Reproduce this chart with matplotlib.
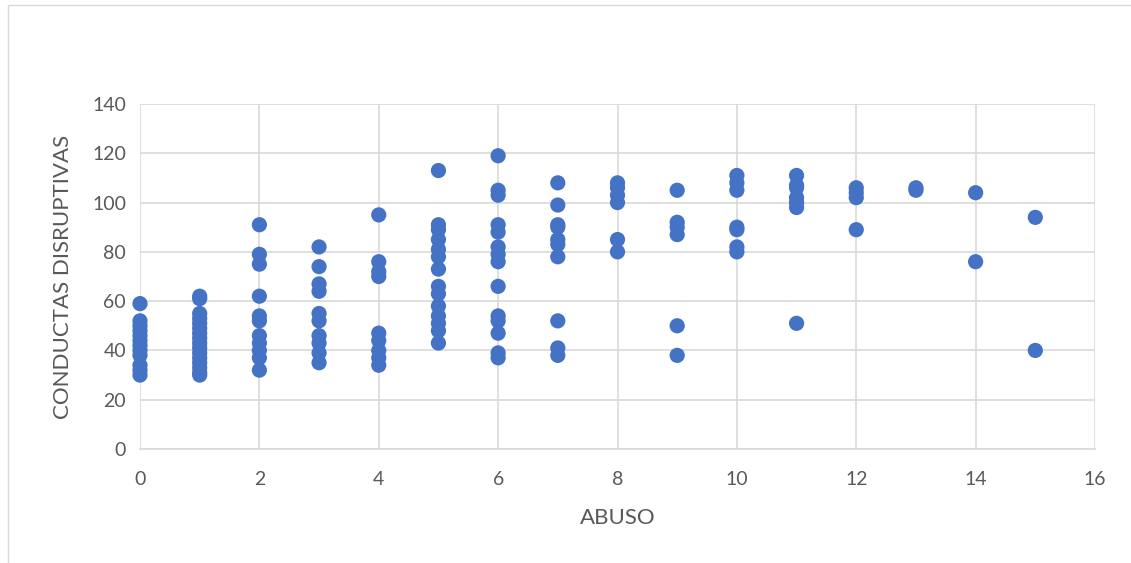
import matplotlib
matplotlib.use("Agg")
import matplotlib.pyplot as plt
from matplotlib.patches import Rectangle

plt.rcParams['font.family'] = ['Lato', 'DejaVu Sans']

# ABUSO values and CONDUCTAS DISRUPTIVAS values, grouped by x
x0 = [59, 52, 50, 48, 46, 44, 42, 40, 38, 34, 32, 30]
x1 = [62, 61, 55, 53, 51, 49, 47, 45, 43, 41, 39, 37, 35, 33, 31, 30]
x2 = [91, 79, 75, 62, 54, 52, 46, 43, 40, 37, 32]
x3 = [82, 74, 67, 64, 55, 52, 46, 43, 39, 35]
x4 = [95, 76, 72, 70, 47, 44, 40, 37, 34]
x5 = [113, 91, 89, 85, 81, 78, 73, 66, 63, 58, 54, 51, 48, 43]
x6 = [119, 105, 103, 91, 88, 82, 79, 76, 66, 54, 52, 47, 39, 37]
x7 = [108, 99, 91, 90, 85, 83, 78, 52, 41, 38]
x8 = [108, 106, 103, 100, 85, 80]
x9 = [105, 92, 90, 87, 50, 38]
x10 = [111, 108, 105, 90, 89, 82, 80]
x11 = [111, 107, 106, 102, 100, 98, 51]
x12 = [106, 104, 102, 89]
x13 = [106, 105]
x14 = [104, 76]
x15 = [94, 40]

groups = [x0, x1, x2, x3, x4, x5, x6, x7, x8, x9, x10, x11, x12, x13, x14, x15]
abuso = []
conductas = []
for k, g in enumerate(groups):
    for v in g:
        abuso.append(k)
        conductas.append(v)

xticks = [0, 2, 4, 6, 8, 10, 12, 14, 16]
yticks = [0, 20, 40, 60, 80, 100, 120, 140]

W, H = 1131, 563
fig = plt.figure(figsize=(W / 100, H / 100), dpi=100)
ax = fig.add_axes([140 / W, 1 - 449 / H, (1095 - 140) / W, (449 - 104) / H])

# chart border
fig.patches.append(Rectangle((8 / W, -0.1), 1.2, 1 - 5 / H + 0.1, transform=fig.transFigure,
                             fill=False, edgecolor='#d9d9d9', linewidth=1.0))

ax.scatter(abuso, conductas, s=120, color='#4472C4', edgecolors='none', zorder=3, clip_on=False)

ax.set_xlim(0, 16)
ax.set_ylim(0, 140)
ax.set_xticks(xticks)
ax.set_yticks(yticks)
ax.grid(True, color='#d9d9d9', linewidth=1.2)
ax.set_axisbelow(True)
for s in ['top', 'right', 'left']:
    ax.spines[s].set_visible(False)
ax.spines['bottom'].set_color('#d9d9d9')
ax.spines['bottom'].set_linewidth(1.2)
ax.tick_params(axis='x', length=0, labelsize=14, labelcolor='#595959', pad=16)
ax.tick_params(axis='y', length=0, labelsize=14, labelcolor='#595959', pad=10)
ax.set_xlabel('ABUSO', fontsize=16, color='#595959', labelpad=14)
ax.set_ylabel('CONDUCTAS DISRUPTIVAS', fontsize=16, color='#595959', labelpad=14)

fig.savefig('out.png', dpi=100)
